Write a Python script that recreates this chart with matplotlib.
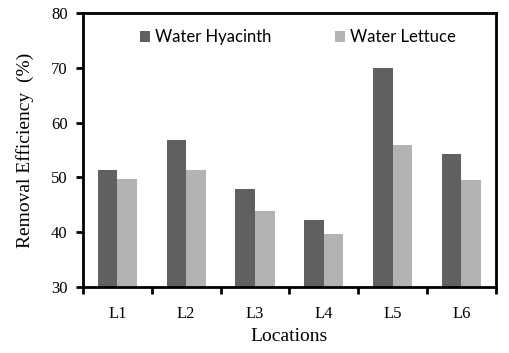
import numpy as np
import matplotlib as mpl
mpl.use('Agg')
import matplotlib.pyplot as plt

locations = ["L1", "L2", "L3", "L4", "L5", "L6"]
hyacinth = [51.3, 56.8, 47.9, 42.2, 70.0, 54.3]
lettuce = [49.7, 51.3, 43.9, 39.7, 55.9, 49.5]
series_names = ["Water Hyacinth", "Water Lettuce"]
yticks = [30, 40, 50, 60, 70, 80]

serif = "Liberation Serif"

fig = plt.figure(figsize=(5.09, 3.53), dpi=100)
ax = fig.add_axes([0.163, 0.187, 0.811, 0.776])

x = np.arange(len(locations))
w = 0.285
ax.bar(x - w / 2, hyacinth, w, color="#606060", label=series_names[0])
ax.bar(x + w / 2, lettuce, w, color="#b2b2b2", label=series_names[1])

ax.set_xlim(-0.5, len(locations) - 0.5)
ax.set_ylim(30, 80)
ax.set_yticks(yticks)
ax.set_yticklabels([str(v) for v in yticks], fontfamily=serif, fontsize=12)

# category labels centered, tick marks at boundaries
ax.set_xticks(np.arange(len(locations) + 1) - 0.5)
ax.set_xticklabels([])
ax.set_xticks(x, minor=True)
ax.set_xticklabels(locations, minor=True, fontfamily=serif, fontsize=12)
ax.tick_params(axis="x", which="minor", length=0, pad=14)
ax.tick_params(axis="x", which="major", length=5, width=2, direction="out")
ax.tick_params(axis="y", length=5, width=2, direction="out", pad=6)

for s in ax.spines.values():
    s.set_linewidth(2)

ax.set_xlabel("Locations", fontfamily=serif, fontsize=14, labelpad=4)
ax.set_ylabel("Removal Efficiency  (%)", fontfamily=serif, fontsize=14, labelpad=12)

fig.legend(loc="upper center", bbox_to_anchor=(0.585, 0.96), ncol=2,
           frameon=False, prop={"family": "Lato", "size": 12},
           handlelength=0.6, handleheight=0.6, handletextpad=0.3,
           columnspacing=3.8)

fig.savefig("out.png", dpi=100)
